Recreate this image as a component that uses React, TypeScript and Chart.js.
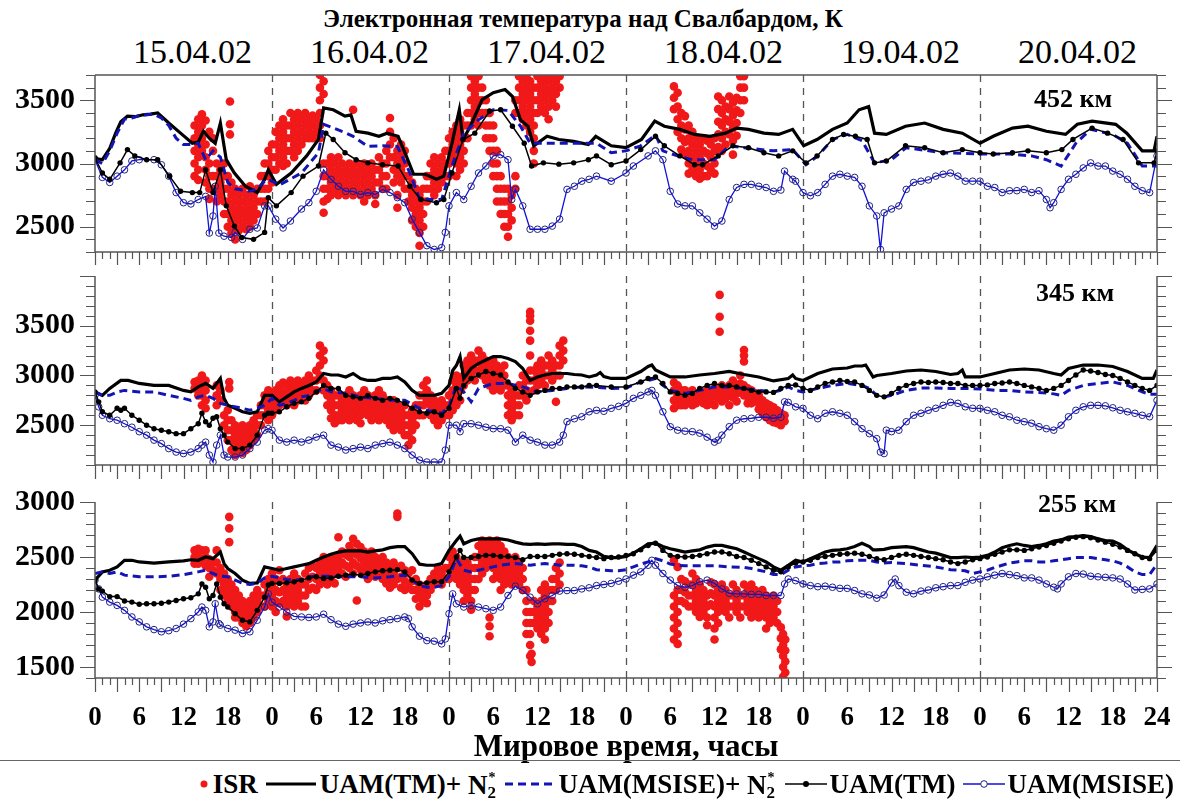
import React, { useEffect, useRef } from "react";
import { Chart, registerables } from "chart.js";

Chart.register(...registerables);

type XY = [number, number];
type Row = number[];

// ---------- tick / label data ----------
const dayLabels = ["15.04.02", "16.04.02", "17.04.02", "18.04.02", "19.04.02", "20.04.02"];
const dayBoundaries = [24, 48, 72, 96, 120];
const panelNames = ["452 км", "345 км", "255 км"];

// ---------- 452 km ----------
const tmN2_452: XY[] = [[0,3040],[1,3030],[2,3120],[2.8,3240],[3.5,3330],[4.4,3374],[5.5,3370],[6.5,3385],[7.5,3390],[8.5,3400],[10,3320],[11.6,3240],[13.2,3160],[14,3170],[14.7,3255],[15.5,3200],[16.3,3160],[17,3320],[17.8,3030],[18.9,2925],[20.4,2820],[22,2770],[23,2875],[23.5,2950],[24.6,2835],[26.6,2925],[28.7,3060],[30.3,3190],[31,3440],[32.3,3425],[33.9,3375],[34.7,3385],[35.4,3255],[37,3240],[38.5,3215],[39.6,3240],[41.1,3215],[42.2,3060],[43.2,2915],[44.8,2915],[46.3,2875],[47.3,2900],[48.4,3160],[49.4,3425],[49.9,3190],[50.9,3295],[52.5,3505],[54,3560],[55.6,3585],[56.6,3530],[57.7,3345],[58.7,3295],[59.5,3140],[61.3,3215],[62.9,3190],[64.9,3175],[66.9,3150],[67.9,3215],[70,3140],[72,3125],[74.1,3190],[75.9,3335],[77.2,3295],[79.3,3270],[81.3,3230],[83.4,3215],[85.5,3240],[87,3280],[88.6,3270],[90.7,3240],[92.7,3230],[94.6,3270],[96.1,3140],[97.9,3190],[100,3270],[102,3320],[103.6,3425],[104.9,3450],[105.7,3240],[107.3,3230],[109.9,3295],[112.5,3320],[115,3270],[117.6,3240],[120,3160],[121.8,3215],[124.4,3280],[126.5,3295],[129,3255],[131.6,3230],[133.2,3310],[135.2,3335],[138.4,3310],[139.9,3240],[142,3100],[143.6,3100],[144,3215]];
const msN2_452: XY[] = [[0,3030],[1,3000],[2,3100],[3,3240],[4,3350],[5,3360],[6,3380],[7,3385],[8,3390],[9,3360],[10,3300],[11,3200],[12,3150],[13,3150],[14,3160],[15,3030],[16,3100],[17,3050],[18,2850],[19,2800],[20,2790],[21,2780],[22,2800],[23,2860],[23.5,2875],[25,2830],[28,2925],[30.3,3085],[31,3310],[33.9,3245],[35,3215],[37,3135],[39,3140],[41,3135],[42.7,2925],[44,2720],[46,2715],[47,2715],[48.4,2980],[50,3240],[52,3345],[54,3425],[56,3420],[57.7,3295],[59,3160],[61,3160],[64,3160],[66,3160],[68,3160],[70,3085],[72,3100],[74,3140],[76,3225],[77,3100],[79,3060],[81,3030],[84,3030],[86,3140],[88,3125],[92,3100],[94.6,3110],[96.4,2990],[98,3060],[100,3190],[102,3230],[104,3180],[105.7,3005],[108,3030],[110,3125],[115,3085],[120,3075],[124,3075],[127,3060],[129,3030],[131,2980],[133,3160],[135,3270],[138,3230],[140,3160],[142,2980],[144,2980]];
const tm_452: XY[] = [[0,3045],[1,2925],[2,2875],[3.4,3005],[4.4,3110],[5.4,3060],[7,3030],[8.5,3030],[10.1,2900],[11.6,2780],[13.2,2770],[14.2,2770],[15,2950],[16,2770],[17,2950],[17.8,2665],[18.9,2505],[19.9,2415],[21.5,2400],[23,2455],[23.5,2730],[24.6,2665],[26.6,2770],[28.2,2900],[30.3,2980],[31.3,3240],[32.3,3190],[33.9,3085],[35.4,3030],[37,3005],[39,2990],[41.1,2980],[42.7,2820],[44.2,2715],[46.3,2690],[47.3,2715],[48.4,2925],[49.9,3190],[51.5,3240],[53.5,3415],[55,3425],[56.6,3295],[58.2,3160],[59.2,2980],[60.8,3005],[62.9,2995],[64.9,3005],[66.9,3030],[68,3060],[70,2990],[72,3020],[74,3110],[76,3215],[77.2,3140],[79.3,3060],[81.3,2990],[82.4,2990],[84.5,3060],[86.5,3140],[88.6,3125],[90.7,3085],[92.7,3060],[94.6,3100],[96.4,3005],[97.9,3060],[100,3190],[101.5,3230],[103.1,3215],[104.7,3190],[105.7,3005],[107.3,3020],[109.9,3140],[112.5,3125],[115,3085],[117.6,3110],[120,3085],[121.8,3075],[124.4,3085],[126.5,3100],[129,3085],[131.1,3110],[132.6,3190],[135.2,3280],[137.3,3240],[139.4,3190],[141.5,3005],[143.6,3005],[144,3100]];
const ms_452: XY[] = [[0,3030],[1,2890],[2,2850],[3,2900],[4,2950],[5,3020],[6,3030],[8,3030],[9,2990],[10,2900],[11,2770],[12,2690],[13,2680],[14,2715],[15,2740],[15.5,2450],[16,2585],[16.3,2820],[16.8,2450],[17.5,2425],[18.5,2415],[19,2455],[20,2400],[21,2480],[22,2490],[23,2665],[23.5,2665],[24.5,2560],[25.5,2490],[26.5,2545],[28,2640],[29,2690],[30,2780],[31,2950],[32,2875],[33,2820],[34,2780],[35,2780],[36,2755],[37,2770],[38,2755],[39,2795],[40,2770],[41,2730],[42,2690],[43,2560],[44,2455],[45,2350],[46,2320],[47,2335],[47.5,2455],[48,2665],[49,2770],[50,2715],[51,2820],[52,2925],[53,2980],[54,3060],[55,3070],[56,3030],[56.5,2715],[57,2795],[58,2665],[59,2480],[60,2480],[61,2480],[62,2505],[63,2560],[64,2795],[65,2820],[66,2860],[67,2875],[68,2900],[70,2860],[72,2925],[73,2980],[75,3060],[76,3100],[77,3030],[78,2780],[79,2680],[80,2665],[81,2665],[82,2610],[83,2560],[84,2505],[85,2545],[86,2715],[87,2810],[88,2835],[89,2835],[90,2820],[91,2810],[92,2780],[93,2790],[93.5,2940],[94.6,2875],[95,2860],[96,2770],[97,2745],[98,2770],[99,2835],[100,2900],[101,2915],[102,2900],[103,2890],[104,2820],[105,2665],[106,2585],[106.5,2320],[107,2610],[108,2640],[109,2665],[110,2795],[111,2850],[112,2860],[113,2870],[114,2900],[115,2915],[116,2925],[117,2900],[118,2860],[119,2860],[120,2860],[121,2820],[122,2810],[123,2770],[124,2785],[125,2785],[126,2795],[127,2770],[128,2785],[129,2715],[129.5,2650],[130,2690],[131,2795],[132,2875],[133,2915],[134,2965],[135,3005],[136,2980],[137,2980],[138,2940],[139,2915],[140,2875],[141,2820],[142,2785],[143,2770],[144,3060]];
// ISR rows: [hour, values...]
const isr_452: Row[] = [
  [13.5,3300,3200,3100,3000,2900],[14,3350,3250,3150,3050,2950,2870],[14.5,3390,3300,3200,3100],[15,3340,3150,3050,2950,2850],[15.5,3250,3000,2900,2800,2720],[16,3200,3100,2900,2800],[16.5,3000,2900,2800,2700],[17,2950,2850,2750],[17.5,3000,2900,2800,2700,2600],[18,2900,2800,2700,2600,2500],[18.3,3490,3310,3230],[18.5,2850,2750,2650,2550,2450],[19,2800,2700,2600,2500,2400],[19.5,2750,2650,2550,2470],[20,2800,2700,2600,2500],[20.5,2750,2650,2550,2480],[21,2820,2700,2600,2500],[21.5,2750,2650,2550],[22,2800,2700,2600],[22.5,2900,2800,2700],[23,3000,2900,2800,2700],[23.5,3100,3000,2900,2800],[24,3150,3050,2950,2850],[24.5,3250,3150,3050,2950],[25,3300,3200,3100,3000],[25.5,3350,3250,3150,3050,2980],[26,3300,3200,3100,3000],[26.5,3400,3300,3200,3100],[27,3350,3250,3150,3050],[27.5,3400,3300,3200,3100],[28,3350,3250,3150],[28.5,3400,3300,3200],[29,3350,3250,3200],[29.5,3380,3300,3200],[30,3350,3250],[30.5,3700,3600,3500,3400,3300,3200],[31,3650,3550,3000,2900,2800,2700,2610],[31.5,3000,2900,2800,2720],[32,3050,2950,2850,2750],[32.5,3000,2900,2800],[33,3050,2950,2850,2750],[33.5,3000,2900,2800],[34,2950,2850,2750],[34.5,3000,2900,2800],[35,3425,2950,2850,2750],[35.5,3000,2900,2800],[36,2950,2850,2750],[36.5,3000,2900,2800,2700],[37,2950,2850,2750],[37.5,3000,2900,2800],[38,2950,2850,2750,2680],[38.5,3050,2950,2850],[39,3000,2900,2800],[39.5,3100,3000,2900,2800],[40,3360,3250,3150,3050],[40.5,3200,3050,2950,2850],[41,3100,3000,2900,2750,2650],[41.5,3150,3050,2950,2850],[42,3100,3000,2900,2800],[42.5,2900,2800,2700],[43,2850,2750,2650,2550],[43.5,2800,2700,2600,2500],[44,2750,2650,2550,2450,2350],[44.5,2800,2700,2600,2500],[45,2900,2800,2700],[45.5,3000,2900,2800],[46,3050,2950,2850,2750],[46.5,3000,2900,2800],[47,3050,2950,2850],[47.5,3100,3000,2900],[48,3200,3100,3000,2900],[48.5,3250,3150,3050],[49,3300,3200,3100,3000,2900],[49.5,3350,3250,3150,3050,2950],[50,3300,3200,3100,3000],[50.5,3400,3300,3200],[51,3690,3600,3500,3400,3300],[51.5,3650,3550,3450,3350],[52,3690,3600,3500,3400,3300],[52.5,3600,3500,3400],[53,3500,3400,3300,3200],[53.5,3400,3300,3200,3100],[54,3300,3200,3100,3000,2900],[54.5,3100,3000,2900,2800,2700],[55,2900,2800,2700,2600],[55.5,2800,2700,2600,2500],[56,2800,2700,2600,2500,2420],[56.5,2750,2650,2550],[57,3500,3400,2900,2800],[57.5,3690,3600,3500,3400],[58,3650,3550,3450,3350],[58.5,3690,3600,3500,3400,3300],[59,3650,3550,3450,3350,3250],[59.5,3600,3500,3400,3300,3200,3100,3000],[60,3690,3600,3500,3400],[60.5,3650,3550,3450],[61,3690,3600,3500,3400],[61.5,3650,3550,3450,3350],[62,3690,3600,3500],[62.5,3650,3550,3450],[63,3690,3600],
  [78.5,3610,3520,3430],[79,3560,3450,3350,3250],[79.5,3400,3300,3200,3110],[80,3375,3270,3170,3070],[80.5,3300,3200,3100,3000,2920],[81,3250,3150,3050,2950],[81.5,3200,3100,3000,2900],[82,3150,3050,2950,2880],[82.5,3200,3100,3000,2900],[83,3180,3080,2980,2900],[83.5,3150,3050,2950],[84,3200,3100,3000,2920],[84.5,3530,3430,3330,3230,3130],[85,3500,3400,3300,3200,3100],[85.5,3450,3350,3250,3150],[86,3530,3430,3330,3230],[86.5,3480,3380,3280,3180,3070],[87,3520,3420,3320,3220],[87.5,3690,3600,3500,3400],[88,3690,3600,3500]
];

// ---------- 345 km ----------
const tmN2_345: XY[] = [[0,2835],[1,2800],[2,2870],[3.5,2950],[4.5,2950],[6,2920],[8,2900],[10,2900],[12,2850],[13,2835],[14,2885],[15,2920],[16,2870],[17,2970],[17.5,2770],[18,2700],[19,2670],[20,2635],[21,2620],[22,2635],[23,2800],[24,2800],[25,2735],[26,2785],[27,2835],[28,2870],[29,2900],[30,2935],[31,3020],[32,3005],[33,3005],[34,2985],[35,3020],[36,2970],[37,2950],[38,2950],[39,2970],[40,2970],[41,2985],[42,2935],[43,2850],[44,2800],[45,2800],[46,2800],[47,2820],[48,2900],[48.5,3050],[49,3100],[49.5,3190],[50,2970],[51,3070],[52,3120],[53,3155],[54,3190],[55,3190],[56,3170],[57,3140],[58,3070],[59,2950],[60,2985],[61,3005],[62,3020],[63,3020],[64,3020],[65,3010],[66,3005],[67,2985],[68,3005],[68.5,3030],[69,2990],[70,2970],[72,2970],[73,3005],[74,3040],[75,3090],[75.5,3105],[76,3055],[77,3020],[78,2985],[80,2985],[82,3005],[84,3020],[86,3040],[88,3010],[90,2985],[92,2945],[94,2970],[94.6,3005],[95,2970],[96,2950],[98,3020],[100,3065],[102,3075],[103,3095],[104,3095],[104.5,3105],[105,3045],[105.5,2985],[106,3000],[108,3020],[110,3045],[112,3055],[114,3040],[116,3010],[117,3020],[117.6,3055],[118,2985],[120,2985],[122,3020],[124,3055],[126,3065],[128,3055],[130,3020],[131,3005],[132,3070],[134,3105],[136,3105],[138,3090],[140,3040],[142,2970],[143.5,2970],[144,3055]];
const msN2_345: XY[] = [[0,2835],[1,2800],[2,2800],[3,2835],[4,2850],[6,2835],[8,2835],[10,2800],[12,2770],[13,2750],[14,2785],[15,2800],[16,2770],[17,2720],[18,2700],[20,2670],[21,2650],[22,2670],[23,2700],[24,2770],[25,2700],[26,2720],[27,2750],[28,2785],[29,2800],[30,2835],[31,2870],[32,2835],[34,2820],[36,2785],[38,2770],[40,2750],[42,2750],[44,2670],[46,2635],[47,2620],[48,2685],[49,2900],[50,2835],[51,2735],[52,2870],[54,2920],[56,2920],[58,2885],[60,2835],[62,2850],[64,2870],[66,2885],[68,2880],[70,2870],[72,2875],[74,2935],[75,2950],[76,2970],[77,2900],[78,2850],[80,2820],[82,2850],[84,2885],[86,2885],[88,2870],[90,2850],[92,2835],[93,2850],[94,2885],[95,2850],[96,2835],[98,2870],[100,2900],[102,2920],[104,2900],[105,2870],[106,2800],[107,2785],[108,2800],[110,2850],[112,2875],[114,2875],[116,2870],[118,2870],[120,2865],[122,2850],[124,2850],[126,2835],[128,2830],[130,2815],[131,2800],[132,2850],[134,2900],[136,2920],[138,2935],[140,2900],[142,2835],[143,2810],[144,2810]];
const tm_345: XY[] = [[0,2835],[0.5,2735],[1,2635],[2,2600],[3,2670],[3.5,2650],[4,2670],[5,2600],[6,2550],[7,2500],[8,2465],[9,2450],[10,2435],[11,2415],[12,2415],[13,2465],[14,2515],[14.5,2620],[15,2535],[15.5,2500],[16,2570],[16.5,2585],[17,2465],[17.5,2400],[18,2330],[19,2265],[20,2265],[21,2300],[22,2400],[23,2600],[23.5,2620],[24,2620],[25,2635],[26,2685],[27,2720],[28,2735],[29,2770],[30,2835],[31,2900],[32,2870],[33,2870],[34,2800],[35,2785],[36,2770],[37,2800],[38,2770],[39,2750],[40,2770],[41,2750],[42,2720],[43,2670],[44,2635],[45,2620],[46,2635],[47,2600],[48,2670],[49,2870],[49.5,2770],[50,2900],[51,2970],[52,3005],[53,3040],[54,3020],[55,3005],[56,2935],[57,2870],[58,2835],[59,2800],[60,2835],[61,2850],[62,2870],[63,2870],[64,2885],[65,2885],[66,2885],[67,2900],[68,2900],[70,2885],[72,2885],[74,2935],[75,2970],[76,2985],[77,2920],[78,2835],[79,2820],[80,2800],[81,2820],[82,2870],[83,2900],[84,2920],[85,2900],[86,2900],[87,2885],[88,2870],[89,2850],[90,2835],[91,2835],[92,2830],[93,2870],[94,2900],[95,2905],[96,2870],[97,2850],[98,2885],[99,2920],[100,2935],[101,2950],[102,2940],[103,2935],[104,2900],[105,2850],[106,2800],[107,2785],[108,2820],[109,2870],[110,2900],[111,2920],[112,2935],[113,2930],[114,2935],[115,2930],[116,2920],[117,2920],[118,2900],[119,2900],[120,2900],[121,2905],[122,2920],[123,2925],[124,2935],[125,2920],[126,2900],[127,2885],[128,2870],[129,2850],[130,2870],[131,2900],[132,2950],[133,3005],[134,3055],[135,3045],[136,3030],[137,3010],[138,3000],[139,2970],[140,2935],[141,2900],[142,2870],[143,2850],[144,2900]];
const ms_345: XY[] = [[0,2800],[0.5,2685],[1,2600],[2,2565],[3,2550],[4,2515],[5,2480],[6,2435],[7,2400],[8,2350],[9,2315],[10,2265],[11,2230],[12,2215],[13,2230],[14,2265],[14.5,2300],[15,2330],[15.5,2200],[16,2130],[16.5,2300],[17,2400],[17.5,2200],[18,2180],[19,2180],[20,2200],[21,2265],[22,2330],[23,2450],[23.5,2465],[24,2450],[25,2350],[26,2330],[27,2350],[28,2330],[29,2350],[30,2380],[31,2400],[32,2300],[33,2280],[34,2250],[35,2265],[36,2280],[37,2265],[38,2300],[39,2315],[40,2330],[41,2300],[42,2265],[43,2200],[44,2150],[45,2130],[46,2130],[47,2130],[47.5,2250],[48,2500],[49,2500],[49.5,2435],[50,2515],[51,2515],[52,2500],[53,2480],[54,2465],[55,2465],[56,2450],[57,2330],[58,2400],[59,2350],[60,2330],[61,2300],[62,2300],[63,2330],[63.5,2400],[64,2535],[65,2565],[66,2585],[67,2635],[68,2650],[69,2640],[70,2670],[71,2690],[72,2720],[73,2770],[74,2800],[75,2835],[75.5,2850],[76,2800],[77,2635],[78,2485],[79,2450],[80,2440],[81,2435],[82,2420],[83,2380],[84,2330],[84.5,2350],[85,2400],[86,2485],[87,2550],[88,2565],[89,2570],[90,2580],[91,2580],[92,2570],[93,2580],[93.5,2735],[94,2730],[95,2685],[96,2670],[97,2600],[98,2565],[99,2620],[100,2635],[101,2620],[102,2600],[103,2535],[104,2465],[105,2415],[106,2365],[106.5,2230],[107,2215],[107.3,2450],[108,2435],[109,2450],[110,2535],[111,2600],[112,2620],[113,2650],[114,2670],[115,2700],[116,2730],[117,2720],[118,2685],[119,2670],[120,2670],[121,2650],[122,2635],[123,2600],[124,2585],[125,2550],[126,2535],[127,2520],[128,2485],[129,2465],[130,2450],[131,2500],[132,2585],[133,2650],[134,2685],[135,2700],[136,2700],[137,2695],[138,2675],[139,2650],[140,2635],[141,2620],[142,2600],[143,2585],[144,2750]];
const isr_345: Row[] = [
  [13.5,2935,2870],[14,2950,2870,2800],[14.5,3000,2900,2800,2700],[15,2950,2850,2750,2670],[16.5,2900,2800,2700],[17,2850,2750],[18.2,2935,2870],[17.5,2600,2500],[18,2650,2550,2450,2350],[18.5,2550,2450,2350,2250],[19,2500,2400,2300,2200],[19.5,2450,2350,2250],[20,2500,2400,2300,2220],[20.5,2450,2350,2250],[21,2500,2400,2300],[21.5,2550,2450,2350],[22,2600,2500,2400],[22.5,2700,2600,2500],[23,2800,2700,2600],[23.5,2850,2750,2650,2550],[24,2800,2700,2600],[24.5,2850,2750,2650],[25,2900,2800,2700],[25.5,2930,2830,2730],[26,2900,2800,2700],[26.5,2950,2850,2750],[27,2900,2800,2700],[27.5,2950,2850,2750],[28,2900,2800],[28.5,2950,2850,2750],[29,3000,2900,2800],[29.5,2950,2850],[30,3050,2950,2850],[30.5,3300,3200,3100,3000],[31,3250,3150,2950,2850],[31.5,2900,2800,2700],[32,2850,2750,2650,2570],[32.5,2800,2700,2600,2520],[33,2800,2700,2600,2550],[33.5,2750,2650,2550],[34,2800,2700,2600],[34.5,2850,2750,2650,2550],[35,2800,2700,2600],[35.5,2750,2650,2550],[36,2800,2700,2600,2520],[36.5,2850,2750,2650],[37,2800,2700,2600],[37.5,2750,2650,2550],[38,2800,2700,2600],[38.5,2850,2750,2650,2550],[39,2800,2700,2600],[39.5,2750,2650,2550],[40,2700,2600,2500],[40.5,2750,2650,2550,2450],[41,2700,2600,2500],[41.5,2650,2550,2450],[42,2700,2600,2500,2400],[42.5,2600,2500,2400,2300],[43,2650,2550,2450,2350],[43.5,2700,2600,2500],[44,2800,2700,2600],[44.5,2900,2800,2700,2600],[45,2950,2850,2750],[45.5,2800,2700,2600],[46,2750,2650,2550],[46.5,2700,2600,2500],[47,2750,2650,2550],[47.5,2700,2600],[48,2800,2700,2600],[48.5,2950,2850,2750,2650],[49,3000,2900,2800,2700],[49.5,2950,2850,2750],[50,3100,3000,2900],[50.5,3150,3050,2950],[51,3200,3100,3000],[51.5,3150,3050,2950],[52,3250,3150,3050],[52.5,3200,3100,3000],[53,3150,3050,2950],[53.5,3100,3000,2900],[54,3150,3050,2950,2850],[54.5,3100,3000,2900],[55,3050,2950,2850],[55.5,3100,3000,2900],[56,2900,2800,2700,2600],[56.5,2850,2750,2650,2550],[57,2800,2700,2600],[57.5,2900,2800,2700,2600],[58,3000,2900,2800],[58.5,2950,2850,2750],[59,3640,3600,3550,3450,3350,3200,3050,2950],[59.5,3050,2950,2850],[60,3100,3000,2900],[60.5,3150,3050,2950],[61,3100,3000,2900],[61.5,3200,3100,3000],[62,3150,3050,2950],[62.5,3100,3000,2735],[63,3300,3200,3100,3000],[63.5,3350,3250,3150],
  [78.5,2930,2850,2750,2670],[79,2900,2800,2700],[79.5,2850,2750,2700],[80,2850,2750,2700],[80.5,2800,2730],[81,2850,2780,2700],[81.5,2800,2720],[82,2830,2750],[82.5,2800,2720],[83,2850,2770,2700],[83.5,2800,2720],[84,2870,2790,2700],[84.5,2850,2770],[84.7,4210,4110,3810,3590,3440],[85,2900,2820,2740],[85.5,2850,2770],[86,2900,2800,2700],[86.5,2950,2870,2780],[87,2900,2820,2740],[87.5,3000,2920,2830],[88,3255,3200,3140,2900,2800],[88.5,2870,2790,2720],[89,2850,2780,2720],[89.5,2820,2750],[90,2800,2720,2660],[90.5,2750,2680,2620],[91,2720,2650,2580],[91.5,2700,2620,2550],[92,2680,2600,2530],[92.5,2650,2580,2520],[93,2620,2560,2500],[93.5,2600,2540]
];

// ---------- 255 km ----------
const tmN2_255: XY[] = [[0,2290],[1,2365],[2,2380],[3,2410],[4,2470],[5,2470],[6,2455],[8,2445],[10,2455],[12,2465],[13,2475],[14,2470],[15,2500],[16,2485],[17,2545],[17.5,2440],[18,2395],[19,2350],[20,2290],[21,2260],[22,2265],[23,2410],[24,2395],[25,2380],[26,2395],[27,2410],[28,2425],[29,2440],[30,2470],[31,2500],[32,2525],[33,2545],[34,2555],[35,2555],[36,2555],[37,2545],[38,2555],[39,2565],[40,2585],[41,2595],[42,2595],[43,2530],[44,2435],[45,2425],[46,2425],[47,2440],[48,2560],[49,2650],[49.5,2690],[50,2620],[51,2650],[52,2665],[53,2665],[54,2665],[55,2665],[56,2655],[57,2635],[58,2620],[59,2615],[60,2620],[61,2615],[62,2620],[63,2620],[64,2615],[65,2615],[66,2595],[67,2560],[68,2545],[69,2505],[70,2495],[71,2495],[72,2505],[73,2535],[74,2575],[75,2620],[76,2625],[77,2595],[78,2575],[79,2560],[80,2545],[81,2555],[82,2565],[83,2590],[84,2605],[85,2605],[86,2590],[87,2575],[88,2545],[89,2515],[90,2485],[91,2455],[92,2410],[93,2380],[94,2425],[95,2470],[96,2455],[97,2485],[98,2515],[99,2545],[100,2560],[101,2565],[102,2575],[103,2595],[104,2625],[105,2595],[105.5,2565],[106,2565],[107,2570],[108,2585],[109,2590],[110,2595],[111,2585],[112,2565],[113,2545],[114,2535],[115,2515],[116,2495],[117,2495],[118,2500],[119,2495],[120,2500],[121,2515],[122,2545],[123,2585],[124,2605],[125,2620],[126,2605],[127,2595],[128,2605],[129,2620],[130,2645],[131,2655],[132,2680],[133,2685],[134,2695],[135,2685],[136,2665],[137,2650],[138,2645],[139,2615],[140,2565],[141,2530],[142,2500],[143,2495],[144,2605]];
const msN2_255: XY[] = [[0,2350],[1,2365],[2,2350],[3,2365],[4,2335],[6,2320],[8,2320],[10,2325],[12,2340],[14,2365],[15,2380],[16,2350],[17,2325],[18,2320],[19,2290],[20,2260],[21,2250],[22,2260],[23,2310],[24,2325],[25,2310],[26,2295],[27,2290],[28,2295],[29,2320],[30,2325],[32,2325],[34,2320],[36,2320],[38,2310],[40,2320],[42,2335],[43,2290],[44,2240],[45,2225],[46,2225],[47,2240],[48,2320],[49,2485],[50,2380],[51,2365],[52,2380],[53,2395],[54,2410],[55,2425],[56,2435],[57,2440],[58,2435],[59,2425],[60,2435],[61,2440],[62,2435],[63,2425],[64,2425],[65,2425],[66,2420],[67,2410],[68,2385],[69,2380],[70,2375],[71,2375],[72,2385],[73,2410],[74,2435],[75,2455],[76,2485],[77,2465],[78,2435],[79,2425],[80,2420],[82,2420],[84,2420],[86,2410],[88,2405],[89,2395],[90,2380],[91,2365],[92,2340],[93,2340],[94,2380],[95,2410],[96,2420],[97,2425],[98,2440],[99,2445],[100,2455],[101,2455],[102,2465],[103,2470],[104,2470],[105,2470],[106,2455],[107,2445],[108,2450],[110,2440],[112,2425],[114,2410],[116,2385],[117,2380],[118,2375],[119,2350],[120,2365],[121,2380],[122,2405],[123,2425],[124,2445],[125,2455],[126,2465],[127,2465],[128,2455],[129,2455],[130,2465],[131,2475],[132,2485],[133,2495],[134,2495],[135,2495],[136,2485],[137,2475],[138,2465],[139,2445],[140,2410],[141,2365],[142,2340],[143,2340],[144,2435]];
const tm_255: XY[] = [[0,2290],[0.5,2210],[1,2190],[2,2140],[3,2140],[4,2100],[5,2090],[6,2070],[7,2075],[8,2075],[9,2080],[10,2090],[11,2105],[12,2120],[13,2130],[14,2165],[14.5,2255],[15,2225],[15.5,2120],[16,2150],[16.5,2255],[17,2135],[17.5,2075],[18,2045],[19,1985],[20,1925],[21,1910],[22,2015],[23,2135],[23.5,2245],[24,2260],[25,2260],[26,2265],[27,2275],[28,2290],[29,2310],[30,2320],[31,2305],[32,2310],[33,2325],[34,2335],[35,2345],[36,2335],[37,2350],[38,2365],[39,2375],[40,2380],[41,2385],[42,2365],[43,2290],[44,2260],[45,2265],[46,2275],[47,2275],[48,2365],[49,2500],[49.5,2560],[50,2495],[51,2495],[52,2505],[53,2515],[54,2515],[55,2505],[56,2505],[57,2495],[58,2475],[59,2505],[60,2505],[61,2505],[62,2515],[63,2525],[64,2530],[65,2525],[66,2515],[67,2505],[68,2495],[69,2485],[70,2495],[71,2500],[72,2515],[73,2530],[74,2565],[75,2605],[76,2625],[77,2560],[78,2515],[79,2505],[80,2500],[81,2505],[82,2515],[83,2530],[84,2545],[85,2545],[86,2530],[87,2505],[88,2495],[89,2470],[90,2440],[91,2410],[92,2380],[93,2365],[94,2410],[95,2445],[96,2455],[97,2470],[98,2495],[99,2505],[100,2515],[101,2525],[102,2530],[103,2535],[104,2525],[105,2505],[106,2485],[107,2475],[108,2495],[109,2515],[110,2525],[111,2515],[112,2505],[113,2495],[114,2485],[115,2475],[116,2455],[117,2440],[118,2455],[119,2475],[120,2485],[121,2500],[122,2525],[123,2545],[124,2565],[125,2565],[126,2560],[127,2575],[128,2590],[129,2605],[130,2625],[131,2645],[132,2665],[133,2680],[134,2685],[135,2675],[136,2655],[137,2635],[138,2615],[139,2590],[140,2560],[141,2530],[142,2495],[143,2485],[144,2560]];
const ms_255: XY[] = [[0,2290],[0.5,2210],[1,2135],[2,2090],[3,2060],[4,2015],[5,1955],[6,1910],[7,1865],[8,1840],[9,1820],[10,1830],[11,1850],[12,1890],[13,1940],[14,2000],[14.5,2045],[15,2015],[15.5,1865],[16,1910],[16.3,2075],[16.8,1895],[17,1880],[18,1850],[19,1835],[20,1805],[21,1820],[22,1925],[23,2045],[23.5,2165],[24,2090],[25,2045],[26,2000],[27,1960],[28,1955],[29,1950],[30,1955],[31,1980],[32,1930],[33,1890],[34,1870],[35,1890],[36,1900],[37,1910],[38,1900],[39,1920],[40,1930],[41,1940],[42,1955],[42.5,1940],[43,1865],[44,1780],[45,1740],[46,1735],[47,1710],[47.5,1755],[48,1985],[48.5,2165],[49,2075],[50,2045],[51,2060],[52,2045],[53,2030],[54,2015],[55,2045],[56,2150],[57,2235],[58,2195],[59,2135],[60,2075],[61,2120],[62,2150],[63,2190],[64,2195],[65,2195],[66,2210],[67,2220],[68,2240],[69,2250],[70,2260],[71,2280],[72,2300],[73,2335],[74,2365],[75,2425],[75.5,2470],[76,2425],[77,2350],[78,2290],[79,2240],[80,2225],[81,2240],[82,2275],[83,2290],[84,2260],[85,2210],[86,2170],[87,2165],[88,2165],[89,2160],[90,2160],[91,2150],[92,2150],[93,2150],[93.5,2255],[94,2300],[95,2285],[96,2255],[97,2240],[98,2230],[99,2235],[100,2225],[101,2215],[102,2215],[103,2195],[104,2165],[105,2155],[106,2125],[107,2155],[108,2265],[108.5,2300],[109,2240],[110,2180],[111,2165],[112,2190],[113,2200],[114,2220],[115,2230],[116,2240],[117,2240],[118,2270],[119,2290],[120,2300],[121,2320],[122,2335],[123,2350],[124,2340],[125,2330],[126,2310],[127,2310],[128,2290],[129,2255],[130,2225],[130.5,2210],[131,2255],[132,2320],[133,2350],[134,2345],[135,2325],[136,2320],[137,2315],[138,2310],[139,2300],[140,2255],[141,2200],[142,2205],[143,2210],[144,2255]];
const isr_255: Row[] = [
  [13.5,2560,2500,2440],[14,2575,2500,2440],[14.5,2560,2480],[15,2560,2500,2420],[15.5,2480,2400,2320],[16,2450,2380],[16.5,2560,2450,2350],[17,2400,2300,2200],[17.5,2350,2250,2150],[18.2,2865,2760,2635],[18,2300,2200,2100],[18.5,2250,2150,2050],[19,2200,2100,2000,1950],[19.5,2150,2050,1950],[20,2100,2000,1900],[20.5,2050,1950,1870],[21,2100,2000,1900],[21.5,2150,2050,1950],[22,2200,2100,2000],[22.5,2150,2050],[23,2250,2150,2050],[23.5,2300,2200,2100],[24,2350,2250,2150,2050],[24.5,2300,2200,2100,2000],[25,2380,2280,2180,2080],[25.5,2300,2200,2100],[26,2250,2150,2050,1960],[26.5,2300,2200,2100],[27,2350,2250,2150,2050],[27.5,2300,2200,2100],[28,2250,2150,2050],[28.5,2350,2250,2150,2050],[29,2400,2300,2200],[29.5,2420,2320,2220],[30,2400,2300,2200],[30.5,2450,2350,2250],[31,2500,2400,2300],[31.5,2450,2350,2250],[32,2500,2400,2300],[32.5,2450,2350,2260],[33,2680,2500,2400],[33.5,2550,2450,2350],[34,2520,2420,2320],[34.5,2600,2500,2400],[35,2665,2550,2450,2350],[35.5,2620,2520,2420,2105],[36,2590,2490,2390],[36.5,2550,2450,2350],[37,2500,2400,2300],[37.5,2550,2450,2350],[38,2500,2400,2320],[38.5,2450,2350],[39,2500,2400,2300],[39.5,2450,2350,2260],[40,2400,2300,2220],[40.5,2450,2350,2250],[41,2895,2865,2400,2300],[41.5,2420,2320,2220],[42,2380,2280,2200],[42.5,2350,2250],[43,2380,2280,2200],[43.5,2300,2200,2120],[44,2250,2150,2050],[44.5,2200,2100],[45,2250,2150,2080],[45.5,2300,2200],[46,2350,2250],[46.5,2400,2300],[47,2350,2250],[47.5,2400,2300],[48,2500,2400,2300],[48.5,2550,2450,2350],[49,2500,2400,2300],[49.5,2450,2350,2250],[50,2400,2300,2200,2100],[50.5,2450,2350,2250,2150],[51,2400,2300,2200,2100,2020],[51.5,2500,2400,2300,2200],[52,2600,2500,2400,2300],[52.5,2650,2550,2450,2350],[53,2600,2500,2400],[53.5,2650,2550,2450,1950,1870,1780],[54,2600,2500,2400,2300],[54.5,2650,2550,2450,2350],[55,2600,2500,2400,2300,2200],[55.5,2550,2450,2350,2250],[56,2500,2400,2300],[56.5,2450,2350,2250],[57,2500,2400,2300],[57.5,2450,2350,2250],[58,2400,2300,2200],[58.5,2200,2100,2000,1900,1800],[59,2000,1900,1800,1700,1600],[59.2,1620,1545],[59.5,2100,2000,1900],[60,2050,1950,1850],[60.5,2200,2100,2000,1900,1800],[61,2250,2150,2050,1950,1850,1750],[61.5,2200,2100,2000,1900],[62,2300,2200,2100],[62.5,2400,2300,2200],[63,2450,2350,2250],
  [78.5,2470,2150,2050,1950,1850,1750],[79,2410,2200,2100,2000,1900,1800,1710],[79.5,2300,2200,2100],[80,2280,2180,2080],[80.5,2250,2150,2050],[81,2350,2250,2150,2050],[81.5,2300,2200,2100,2000],[82,2250,2150,2050,1955],[82.5,2200,2100,2000],[83,2150,2050,1950,1880],[83.5,2270,2170,2070],[84,2250,2150,2050,1950,1850,1750],[84.5,2200,2100,2000,1900],[85,2250,2150,2050],[85.5,2200,2100,2000],[86,2150,2050,1950],[86.5,2250,2150,2050],[87,2200,2100,2000],[87.5,2150,2050,1950],[88,2250,2150,2050],[88.5,2200,2100,2000],[89,2250,2150,2050,1950],[89.5,2200,2100,2000],[90,2150,2050,1950],[90.5,2200,2100,2000],[91,2150,2050,1950,1850],[91.5,2100,2000,1900],[92,2150,2050,1950],[92.5,2100,2000,1900],[93,1860,1760,1660],[93.3,1800,1700,1600,1500,1410],[93.6,1750,1650,1550,1450]
];

// ---------- styles ----------
const FONT = '"Liberation Serif", "Times New Roman", serif';
const AXIS = "#555";
const RED = "#f01818";
const BLUE_DASH = "#1414b4";
const BLUE_LINE = "#1010d8";
const NAVY = "#23237f";

type PanelCfg = {
  name: string; top: number; height: number; padTop: number; padBottom: number;
  min: number; max: number; topBorder: boolean; isrClip: boolean; showX: boolean;
  tmN2: XY[]; msN2: XY[]; tm: XY[]; ms: XY[]; isr: Row[];
};

const panels: PanelCfg[] = [
  { name: panelNames[0], top: 60, height: 205, padTop: 15, padBottom: 13, min: 2300, max: 3700, topBorder: true, isrClip: true, showX: false, tmN2: tmN2_452, msN2: msN2_452, tm: tm_452, ms: ms_452, isr: isr_452 },
  { name: panelNames[1], top: 250, height: 240, padTop: 26, padBottom: 25, min: 2100, max: 4000, topBorder: false, isrClip: false, showX: false, tmN2: tmN2_345, msN2: msN2_345, tm: tm_345, ms: ms_345, isr: isr_345 },
  { name: panelNames[2], top: 480, height: 260, padTop: 22, padBottom: 0, min: 1400, max: 3000, topBorder: false, isrClip: true, showX: true, tmN2: tmN2_255, msN2: msN2_255, tm: tm_255, ms: ms_255, isr: isr_255 },
];

const toXY = (a: XY[]) => a.map(([x, y]) => ({ x, y }));
const rowsToXY = (rows: Row[]) => rows.flatMap(([h, ...vs]) => vs.map((v) => ({ x: h, y: v })));

const frame = (cfg: PanelCfg) => ({
  id: "frame_" + cfg.name,
  beforeDatasetsDraw(chart: any) {
    const { ctx, chartArea: a, scales } = chart;
    ctx.save();
    ctx.strokeStyle = AXIS;
    ctx.lineWidth = 1.3;
    ctx.setLineDash([7, 6]);
    for (const d of dayBoundaries) {
      const x = Math.round(scales.x.getPixelForValue(d)) + 0.5;
      ctx.beginPath();
      ctx.moveTo(x, a.top);
      ctx.lineTo(x, a.bottom);
      ctx.stroke();
    }
    ctx.restore();
  },
  afterDraw(chart: any) {
    const { ctx, chartArea: a, scales } = chart;
    ctx.save();
    ctx.strokeStyle = AXIS;
    ctx.lineWidth = 1.5;
    ctx.setLineDash([]);
    ctx.beginPath();
    ctx.moveTo(a.left, a.top); ctx.lineTo(a.left, a.bottom);
    ctx.moveTo(a.right, a.top); ctx.lineTo(a.right, a.bottom);
    ctx.moveTo(a.left, a.bottom); ctx.lineTo(a.right, a.bottom);
    if (cfg.topBorder) { ctx.moveTo(a.left, a.top); ctx.lineTo(a.right, a.top); }
    ctx.stroke();
    ctx.lineWidth = 1.2;
    ctx.beginPath();
    for (let v = cfg.min; v <= cfg.max; v += 100) {
      const y = Math.round(scales.y.getPixelForValue(v)) + 0.5;
      const len = v % 500 === 0 ? 15 : 9;
      ctx.moveTo(a.left - len, y); ctx.lineTo(a.left, y);
      ctx.moveTo(a.right, y); ctx.lineTo(a.right + len, y);
    }
    for (let h = 0; h <= 144; h++) {
      const x = Math.round(scales.x.getPixelForValue(h)) + 0.5;
      const len = h % 3 === 0 ? 14 : 7;
      ctx.moveTo(x, a.bottom); ctx.lineTo(x, a.bottom + len);
    }
    ctx.stroke();
    ctx.restore();
  },
});

function Panel({ cfg }: { cfg: PanelCfg }) {
  const ref = useRef<HTMLCanvasElement>(null);
  useEffect(() => {
    const chart = new Chart(ref.current as HTMLCanvasElement, {
      type: "line",
      data: {
        datasets: [
          { label: "ISR", data: rowsToXY(cfg.isr), showLine: false, pointRadius: 4.3, pointBackgroundColor: RED, pointBorderWidth: 0, borderColor: RED, order: 10, clip: cfg.isrClip ? undefined : false } as any,
          { label: "UAM(MSISE)", data: toXY(cfg.ms), borderColor: BLUE_LINE, borderWidth: 1.3, pointRadius: 3.3, pointBorderColor: NAVY, pointBorderWidth: 1, pointBackgroundColor: "rgba(255,255,255,0)", order: 8 },
          { label: "UAM(TM)+N2*", data: toXY(cfg.tmN2), borderColor: "#000", borderWidth: 3.2, pointRadius: 0, order: 6 },
          { label: "UAM(MSISE)+N2*", data: toXY(cfg.msN2), borderColor: BLUE_DASH, borderWidth: 3, borderDash: [8, 5], pointRadius: 0, order: 4 },
          { label: "UAM(TM)", data: toXY(cfg.tm), borderColor: "#000", borderWidth: 1.5, pointRadius: 2.7, pointBackgroundColor: "#000", pointBorderWidth: 0, order: 2 },
        ],
      },
      options: {
        responsive: false,
        animation: false,
        devicePixelRatio: 1,
        events: [],
        layout: { padding: { top: cfg.padTop, bottom: cfg.padBottom, left: 0, right: 23 } },
        elements: { line: { tension: 0 } },
        plugins: { legend: { display: false }, tooltip: { enabled: false }, title: { display: false } },
        scales: {
          x: {
            type: "linear", min: 0, max: 144, display: cfg.showX,
            grid: { display: false, drawTicks: false }, border: { display: false },
            afterFit: (s: any) => {
              s.paddingLeft = 0; s.paddingRight = 0; s.paddingTop = 0; s.paddingBottom = 0;
              if (cfg.showX) s.height = 62;
            },
            ticks: {
              stepSize: 6, autoSkip: false, maxRotation: 0, padding: 24, color: "#000",
              font: { family: FONT, weight: "bold", size: 27 },
              callback: (v: any) => (Number(v) === 144 ? "24" : String(Number(v) % 24)),
            },
          },
          y: {
            type: "linear", min: cfg.min, max: cfg.max,
            grid: { display: false, drawTicks: false }, border: { display: false },
            afterFit: (s: any) => { s.width = 95; s.paddingTop = 0; s.paddingBottom = 0; s.paddingLeft = 0; s.paddingRight = 0; },
            ticks: {
              stepSize: 100, autoSkip: false, padding: 20, color: "#000",
              font: { family: FONT, weight: "bold", size: 30 },
              callback: (v: any) => (Number(v) % 500 === 0 && Number(v) < 4000 ? String(v) : ""),
            },
          },
        },
      },
      plugins: [frame(cfg)],
    } as any);
    return () => chart.destroy();
  }, [cfg]);
  return (
    <canvas ref={ref} width={1180} height={cfg.height}
      style={{ position: "absolute", left: 0, top: cfg.top, width: 1180, height: cfg.height }} />
  );
}

const N2 = () => (
  <span>
    N
    <span style={{ position: "relative", display: "inline-block", width: 11, height: "1em" }}>
      <span style={{ position: "absolute", left: 1, top: 4, fontSize: 14, lineHeight: "14px" }}>*</span>
      <span style={{ position: "absolute", left: 0, top: 17, fontSize: 17, lineHeight: "17px" }}>2</span>
    </span>
  </span>
);

export default function App() {
  const center = (x: number, y: number): React.CSSProperties => ({
    position: "absolute", left: x, top: y, transform: "translate(-50%, -50%)", whiteSpace: "nowrap",
  });
  return (
    <div style={{ position: "absolute", left: 0, top: 0, width: 1180, height: 806, background: "#fff", fontFamily: FONT, color: "#000", overflow: "hidden" }}>
      <div style={{ ...center(583, 19), fontWeight: "bold", fontSize: 25 }}>Электронная температура над Свалбардом, К</div>
      {dayLabels.map((d, i) => (
        <div key={d} style={{ ...center(95 + 177 * (i + 0.5) + 9, 52), fontSize: 34 }}>{d}</div>
      ))}
      {panels.map((p) => <Panel key={p.name} cfg={p} />)}
      <div style={{ ...center(1073, 99), fontWeight: "bold", fontSize: 26 }}>{panelNames[0]}</div>
      <div style={{ ...center(1075, 293), fontWeight: "bold", fontSize: 26 }}>{panelNames[1]}</div>
      <div style={{ ...center(1077, 504), fontWeight: "bold", fontSize: 26 }}>{panelNames[2]}</div>
      <div style={{ ...center(626, 746), fontWeight: "bold", fontSize: 31 }}>Мировое время, часы</div>
      <div style={{ position: "absolute", left: 0, top: 760, width: 1180, height: 0, borderTop: "1.5px solid #666" }} />
      <div style={{ position: "absolute", right: 6, top: 768, height: 32, display: "flex", alignItems: "center", fontWeight: "bold", fontSize: 27, whiteSpace: "pre" }}>
        <svg width={12} height={30}><circle cx={6} cy={15} r={3.5} fill={RED} /></svg>
        <span style={{ marginLeft: 3 }}>ISR</span>
        <svg width={58} height={30} style={{ marginLeft: 4 }}><line x1={4} y1={15} x2={54} y2={15} stroke="#000" strokeWidth={3} /></svg>
        <span>{"UAM(TM)+\u00a0"}</span><N2 />
        <svg width={58} height={30} style={{ marginLeft: 2 }}><line x1={5} y1={15} x2={54} y2={15} stroke={BLUE_DASH} strokeWidth={3} strokeDasharray="8 5" /></svg>
        <span>{"UAM(MSISE)+\u00a0"}</span><N2 />
        <svg width={48} height={30} style={{ marginLeft: 4 }}><line x1={3} y1={15} x2={45} y2={15} stroke="#000" strokeWidth={1.5} /><circle cx={24} cy={15} r={3} fill="#000" /></svg>
        <span>UAM(TM)</span>
        <svg width={48} height={30} style={{ marginLeft: 4 }}><line x1={3} y1={15} x2={45} y2={15} stroke={BLUE_LINE} strokeWidth={1.3} /><circle cx={24} cy={15} r={3.3} fill="#fff" stroke={NAVY} strokeWidth={1} /></svg>
        <span>UAM(MSISE)</span>
      </div>
    </div>
  );
}
